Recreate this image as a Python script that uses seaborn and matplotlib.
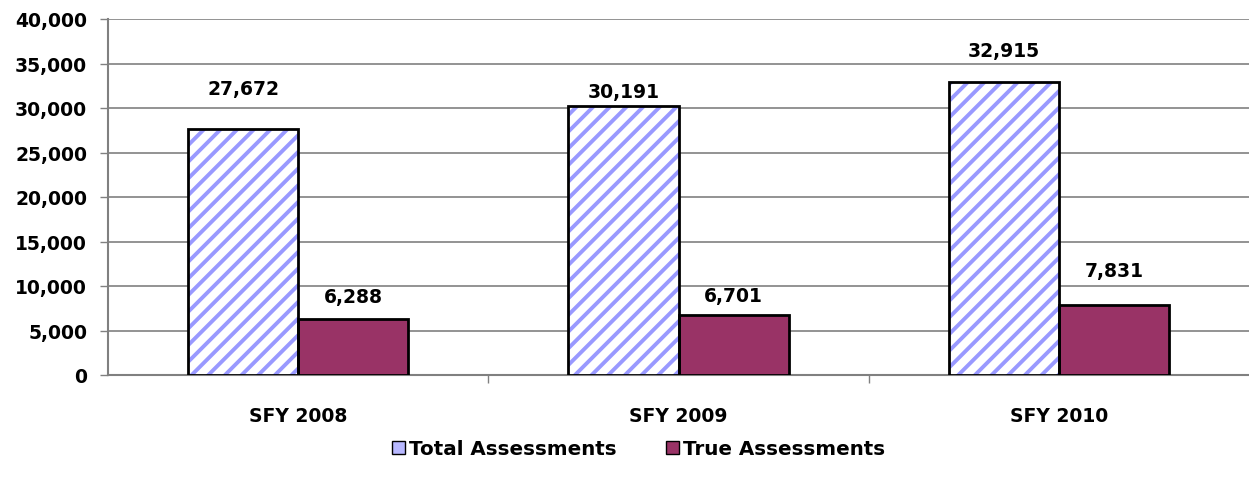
import matplotlib
matplotlib.use("Agg")
import matplotlib.pyplot as plt
from matplotlib.patches import Rectangle, Patch
from matplotlib.ticker import FuncFormatter, FixedLocator
import seaborn as sns
import pandas as pd

categories = ["SFY 2008", "SFY 2009", "SFY 2010"]
series_names = ["Total Assessments", "True Assessments"]
total_values = [27672, 30191, 32915]
true_values = [6288, 6701, 7831]
y_ticks = [0, 5000, 10000, 15000, 20000, 25000, 30000, 35000, 40000]

df = pd.DataFrame({
    "Year": categories * 2,
    "Series": [series_names[0]] * 3 + [series_names[1]] * 3,
    "Value": total_values + true_values,
})

LAV = "#9999FF"
PUR = "#993366"
FONT = "DejaVu Sans"
FS = 13.5

sns.set_theme(style="white")
plt.rcParams["font.family"] = [FONT]
plt.rcParams["text.color"] = "black"
plt.rcParams["hatch.linewidth"] = 2.8

fig = plt.figure(figsize=(12.49, 4.89), dpi=100)
ax = fig.add_axes([108 / 1249, (489 - 376) / 489, (1249 - 108) / 1249, (376 - 20) / 489])

sns.barplot(data=df, x="Year", y="Value", hue="Series", order=categories,
            hue_order=series_names, palette=["white", PUR], saturation=1, width=0.58,
            gap=0, edgecolor="black", linewidth=2, ax=ax, legend=False, zorder=3)

# hatch the total series and redraw its outline
total_bars = ax.containers[0]
for p in total_bars.patches:
    p.set_facecolor("white")
    p.set_edgecolor(LAV)
    p.set_hatch("//")
    p.set_linewidth(0)
    ax.add_patch(Rectangle(p.get_xy(), p.get_width(), p.get_height(), fill=False,
                           edgecolor="black", linewidth=2, zorder=4))

# data labels (offsets in points, Excel-like placement)
label_offsets = [[29, 11, 23], [16, 14, 25]]
for ci, cont in enumerate(ax.containers[:2]):
    for bi, p in enumerate(cont.patches):
        v = p.get_height()
        ax.annotate(f"{int(round(v)):,}", (p.get_x() + p.get_width() / 2, v),
                    xytext=(0, label_offsets[ci][bi]), textcoords="offset points",
                    ha="center", va="center", fontsize=FS, fontweight="bold",
                    color="black", zorder=5)

ax.set_ylim(0, 40000)
ax.set_xlim(-0.5, 2.5)
ax.yaxis.set_major_locator(FixedLocator(y_ticks))
ax.yaxis.set_major_formatter(FuncFormatter(lambda v, _: f"{int(v):,}"))
ax.grid(axis="y", color="#808080", linewidth=1.2, zorder=0)
ax.set_axisbelow(True)

ax.set_xlabel("")
ax.set_ylabel("")
ax.set_xticks(range(len(categories)))
ax.set_xticklabels(categories)
ax.set_xticks([0.5, 1.5], minor=True)
ax.tick_params(axis="x", which="major", length=0, pad=22, labelsize=FS, labelcolor="black")
ax.tick_params(axis="x", which="minor", length=6, width=1, color="#808080", direction="out", bottom=True)
ax.tick_params(axis="y", which="major", length=6, width=1, color="#808080", direction="out",
               left=True, labelsize=FS, pad=9, labelcolor="black")
for lab in ax.get_xticklabels() + ax.get_yticklabels():
    lab.set_fontweight("bold")

for s in ["top", "right"]:
    ax.spines[s].set_visible(False)
for s in ["left", "bottom"]:
    ax.spines[s].set_color("#808080")
    ax.spines[s].set_linewidth(1.5)

handles = [Patch(facecolor="#B8B8FF", edgecolor="black", linewidth=1),
           Patch(facecolor=PUR, edgecolor="black", linewidth=1)]
leg = fig.legend(handles, series_names, loc="center", bbox_to_anchor=(0.511, 1 - 450 / 489),
                 ncol=2, frameon=False, handlelength=0.65, handleheight=0.65,
                 handletextpad=0.2, columnspacing=2.5,
                 prop={"family": FONT, "weight": "bold", "size": 14.3})
for t in leg.get_texts():
    t.set_color("black")

fig.savefig("out.png", dpi=100)
